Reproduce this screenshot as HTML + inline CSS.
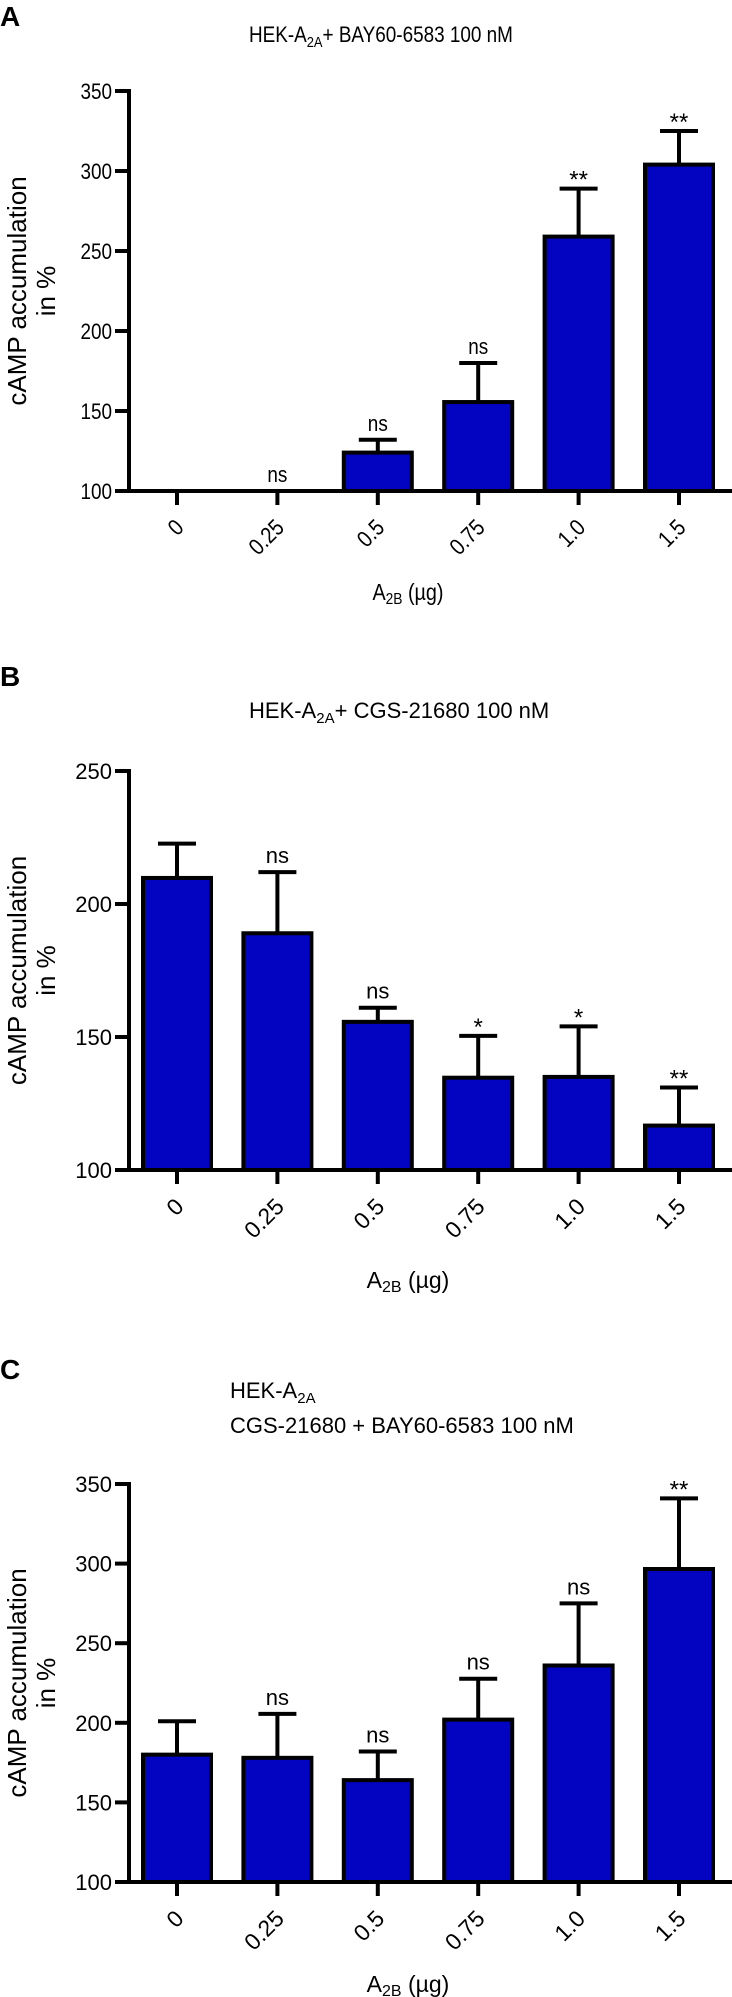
<!DOCTYPE html>
<html><head><meta charset="utf-8">
<style>
html,body{margin:0;padding:0;background:#fff;}
svg{display:block;font-family:"Liberation Sans",Arial,sans-serif;}
</style></head>
<body>
<svg id="fig" width="732" height="1997" viewBox="0 0 732 1997" xmlns="http://www.w3.org/2000/svg"></svg>
<script>
// ---- data ----
const categories = ["0","0.25","0.5","0.75","1.0","1.5"];
const valuesA = [100,100,124,155.6,259,304];
const errA    = [100,100,132,180,289,325];
const sigA    = ["","ns","ns","ns","**","**"];
const ticksA  = [100,150,200,250,300,350];
const valuesB = [209.8,189,155.7,134.7,135,116.7];
const errB    = [222.7,212,161,150.4,154,131];
const sigB    = ["","ns","ns","*","*","**"];
const ticksB  = [100,150,200,250];
const valuesC = [180,178,164,202,236,296.6];
const errC    = [201,205.6,182,227.7,275,341];
const sigC    = ["","ns","ns","ns","ns","**"];
const ticksC  = [100,150,200,250,300,350];

const NS = "http://www.w3.org/2000/svg";
const svg = document.getElementById("fig");
function el(tag, attrs, parent, text){
  const e = document.createElementNS(NS, tag);
  for (const k in attrs) e.setAttribute(k, attrs[k]);
  if (text !== undefined) e.textContent = text;
  (parent||svg).appendChild(e);
  return e;
}

function panel(opt){
  const g = el("g", {});
  
  
  const yMin = opt.ticks[0], yMax = opt.ticks[opt.ticks.length-1];
  const y = v => opt.y0 - (v - yMin) * (opt.y0 - opt.y1) / (yMax - yMin);
  const x = i => 177 + i * 100.4;
  opt.values.forEach((v,i) => {
    const top = y(v);
    if (v > yMin + 0.5) {
      const r = el("rect", {x: x(i)-34, y: top, width: 68, height: opt.y0 - top, fill: "#0303c2", stroke: "#000", "stroke-width": 4}, g);
      
      
    } else {
      const r = el("line", {x1: x(i)-34, x2: x(i)+34, y1: opt.y0-1, y2: opt.y0-1, stroke: "#000", "stroke-width": 2, "stroke-dasharray": "2,22"}, g);
      
      
    }
    const et = y(opt.err[i]);
    if (opt.err[i] > v + 0.5) {
      const e1 = el("line", {x1: x(i), x2: x(i), y1: top, y2: et, stroke: "#000", "stroke-width": 4}, g);
      
      
      const e2 = el("line", {x1: x(i)-19, x2: x(i)+19, y1: et, y2: et, stroke: "#000", "stroke-width": 4}, g);
      
      
    }
    if (opt.sig[i]) {
      const isStar = opt.sig[i].indexOf("*") >= 0;
      const base = (opt.err[i] > v + 0.5 ? et : top);
      const t = el("text", {x: x(i), y: isStar ? base - 1 : base - 9, "text-anchor": "middle", "font-size": isStar ? 24 : 22, fill: "#000"}, g, opt.sig[i]);
      if (opt.condensed && !isStar) t.setAttribute("transform", `translate(${x(i)},0) scale(0.86,1) translate(${-x(i)},0)`);
      
      
    }
  });
  const ya = el("line", {x1: 129, x2: 129, y1: opt.y1 - 2, y2: opt.y0 + 2, stroke: "#000", "stroke-width": 4}, g);
  
  
  opt.ticks.forEach(t => {
    const tl = el("line", {x1: 115, x2: 129, y1: y(t), y2: y(t), stroke: "#000", "stroke-width": 4}, g);
    
    
    const tx = el("text", {x: 112, y: y(t) + 8, "text-anchor": "end", "font-size": 22, fill: "#000"}, g, String(t));
    if (opt.condensed) tx.setAttribute("transform", `translate(112,0) scale(0.86,1) translate(-112,0)`);
    
    
  });
  const xa = el("line", {x1: 115, x2: 732, y1: opt.y0, y2: opt.y0, stroke: "#000", "stroke-width": 4}, g);
  
  
  categories.forEach((c,i) => {
    const tl = el("line", {x1: x(i), x2: x(i), y1: opt.y0, y2: opt.y0 + 14, stroke: "#000", "stroke-width": 4}, g);
    
    
    const lx = x(i) + 8, ly = opt.y0 + 38;
    const tx = el("text", {x: lx, y: ly, "text-anchor": "end", "font-size": 23, fill: "#000", transform: `rotate(-45 ${lx} ${ly})` + (opt.condensed ? ` translate(${lx},0) scale(0.86,1) translate(${-lx},0)` : "")}, g, c);
    
    
  });
  const xt = el("text", {x: 408, y: opt.xTitleY, "text-anchor": "middle", "font-size": 23, fill: "#000"}, g);
  if (opt.condensed) xt.setAttribute("transform", `translate(408,0) scale(0.86,1) translate(-408,0)`);
  
  
  el("tspan", {}, xt, "A");
  el("tspan", {"font-size": 16, dy: 4}, xt, "2B");
  el("tspan", {dy: -4}, xt, " (µg)");
  const cy = (opt.y0 + opt.y1) / 2;
  const yt = el("text", {x: 0, y: 0, "text-anchor": "middle", "font-size": 26, fill: "#000", transform: `translate(26 ${cy}) rotate(-90)`}, g, "cAMP accumulation");
  
  
  const yt2 = el("text", {x: 0, y: 0, "text-anchor": "middle", "font-size": 26, fill: "#000", transform: `translate(55 ${cy}) rotate(-90)`}, g, "in %");
  
  
  const pl = el("text", {x: 0, y: opt.letterY, "font-size": 28, "font-weight": "bold", fill: "#000"}, g, opt.letter);
  
  
  opt.title.forEach((line, k) => {
    const tt = el("text", {x: opt.titleX, y: opt.titleY + k * 35, "font-size": 22, fill: "#000"}, g);
    if (opt.condensed) tt.setAttribute("transform", `translate(${opt.titleX},0) scale(0.86,1) translate(${-opt.titleX},0)`);
    
    
    line.forEach(seg => {
      el("tspan", seg.sub ? {"font-size": 15, dy: 5} : (seg.after ? {dy: -5} : {}), tt, seg.t);
    });
  });
}

panel({name: "panel-a", letter: "A", letterY: 26, condensed: true,
  title: [[{t: "HEK-A"}, {t: "2A", sub: true}, {t: "+ BAY60-6583 100 nM", after: true}]],
  titleX: 249, titleY: 42,
  y0: 491, y1: 91, ticks: ticksA, values: valuesA, err: errA, sig: sigA, xTitleY: 600});
panel({name: "panel-b", letter: "B", letterY: 686, condensed: false,
  title: [[{t: "HEK-A"}, {t: "2A", sub: true}, {t: "+ CGS-21680 100 nM", after: true}]],
  titleX: 249, titleY: 718,
  y0: 1170, y1: 771, ticks: ticksB, values: valuesB, err: errB, sig: sigB, xTitleY: 1288});
panel({name: "panel-c", letter: "C", letterY: 1379, condensed: false,
  title: [[{t: "HEK-A"}, {t: "2A", sub: true}], [{t: "CGS-21680 + BAY60-6583 100 nM"}]],
  titleX: 230, titleY: 1398,
  y0: 1882, y1: 1484, ticks: ticksC, values: valuesC, err: errC, sig: sigC, xTitleY: 1992});
</script>
</body></html>
